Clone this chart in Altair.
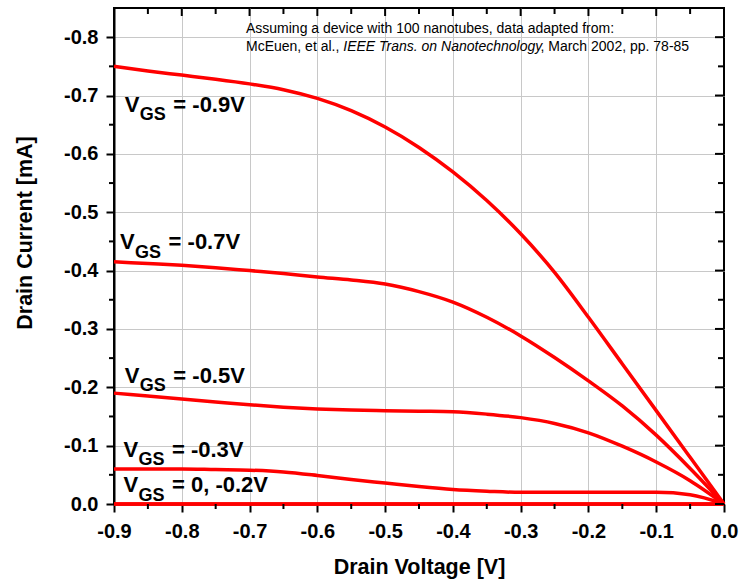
import altair as alt
import pandas as pd

# ---------------- data ----------------
v_drain = [-0.9, -0.85, -0.8, -0.75, -0.7, -0.65, -0.6, -0.55, -0.5, -0.45,
           -0.4, -0.35, -0.3, -0.25, -0.2, -0.15, -0.1, -0.05, 0.0]

i_vgs_m09 = [-0.750, -0.742, -0.735, -0.728, -0.720, -0.710, -0.695, -0.674, -0.646, -0.611,
             -0.569, -0.520, -0.463, -0.397, -0.320, -0.240, -0.160, -0.080, 0.0]
i_vgs_m07 = [-0.415, -0.412, -0.409, -0.405, -0.400, -0.395, -0.389, -0.384, -0.377, -0.364,
             -0.346, -0.320, -0.288, -0.251, -0.211, -0.168, -0.118, -0.061, 0.0]
i_vgs_m05 = [-0.190, -0.185, -0.180, -0.175, -0.170, -0.166, -0.163, -0.161, -0.160, -0.159,
             -0.158, -0.154, -0.148, -0.138, -0.122, -0.099, -0.072, -0.040, 0.0]
i_vgs_m03 = [-0.060, -0.060, -0.060, -0.059, -0.058, -0.055, -0.049, -0.042, -0.036, -0.030,
             -0.025, -0.022, -0.020, -0.020, -0.020, -0.020, -0.020, -0.016, 0.0]
i_vgs_m02 = [0.0, 0.0, 0.0, 0.0, 0.0, 0.0, 0.0, 0.0, 0.0, 0.0,
             0.0, 0.0, 0.0, 0.0, 0.0, 0.0, 0.0, 0.0, 0.0]
i_vgs_0 = [0.0, 0.0, 0.0, 0.0, 0.0, 0.0, 0.0, 0.0, 0.0, 0.0,
           0.0, 0.0, 0.0, 0.0, 0.0, 0.0, 0.0, 0.0, 0.0]

series_names = ["-0.9", "-0.7", "-0.5", "-0.3", "-0.2", "0"]
series_values = [i_vgs_m09, i_vgs_m07, i_vgs_m05, i_vgs_m03, i_vgs_m02, i_vgs_0]

x_major = [-0.9, -0.8, -0.7, -0.6, -0.5, -0.4, -0.3, -0.2, -0.1, 0.0]
x_minor = [-0.85, -0.75, -0.65, -0.55, -0.45, -0.35, -0.25, -0.15, -0.05]
y_major = [0.0, -0.1, -0.2, -0.3, -0.4, -0.5, -0.6, -0.7, -0.8]
y_minor = [-0.05, -0.15, -0.25, -0.35, -0.45, -0.55, -0.65, -0.75]

label_main = ["= -0.9V", "= -0.7V", "= -0.5V", "= -0.3V", "= 0, -0.2V"]
label_x = [-0.884, -0.891, -0.884, -0.886, -0.886]
label_y = [-0.672, -0.4365, -0.208, -0.081, -0.020]

note_line1 = "Assuming a device with 100 nanotubes, data adapted from:"
note_line2_a = "McEuen, et al.,"
note_line2_b = "IEEE Trans. on Nanotechnology"
note_line2_c = ", March 2002, pp. 78-85"
note_x = -0.7053
note_y1 = -0.807
note_y2 = -0.777

# ---------------- tables ----------------
rows = []
for name, vals in zip(series_names, series_values):
    for v, i in zip(v_drain, vals):
        rows.append({"series": name, "v": v, "i": i})
curves = pd.DataFrame(rows)

labels = pd.DataFrame({"v": label_x, "i": label_y, "main": label_main})
note = pd.DataFrame({"v": [note_x], "i1": [note_y1], "i2": [note_y2]})
xmaj = pd.DataFrame({"v": x_major})
xmin = pd.DataFrame({"v": x_minor})
ymaj = pd.DataFrame({"i": y_major})
ymin = pd.DataFrame({"i": y_minor})

FONT = "Liberation Sans, Arial, Helvetica, sans-serif"
W, H = 610, 496

xscale = alt.Scale(domain=[-0.9, 0.0], nice=False, zero=False)
yscale = alt.Scale(domain=[-0.85, 0.0], nice=False, zero=False, reverse=True)

minus_fix = "replace(format(datum.value, '.1f'), '\u2212', '-')"

x_axis = alt.Axis(
    values=x_major, labelExpr=minus_fix, title="Drain Voltage [V]",
    grid=True, gridColor="#c8c8c8", gridWidth=1,
    gridOpacity={"condition": {"test": "datum.value === -0.9 || datum.value === 0", "value": 0}, "value": 1},
    tickSize=8, tickWidth=2, tickColor="black",
    domain=True, domainColor="black", domainWidth=2,
    labelFont=FONT, labelFontSize=20, labelFontWeight="bold", labelColor="black",
    labelPadding=9, labelFlush=False, labelOverlap=False,
    titleFont=FONT, titleFontSize=21.5, titleFontWeight="bold", titleColor="black",
    titleX=W / 2, titleY=69, titleBaseline="alphabetic", titleAlign="center",
)
y_axis = alt.Axis(
    values=y_major, labelExpr=minus_fix, title="Drain Current [mA]",
    grid=True, gridColor="#c8c8c8", gridWidth=1,
    gridOpacity={"condition": {"test": "datum.value === 0", "value": 0}, "value": 1},
    tickSize=8, tickWidth=2, tickColor="black",
    domain=True, domainColor="black", domainWidth=2,
    labelFont=FONT, labelFontSize=20, labelFontWeight="bold", labelColor="black",
    labelPadding=8, labelFlush=False, labelOverlap=False,
    titleFont=FONT, titleFontSize=21.5, titleFontWeight="bold", titleColor="black",
    titleX=-83, titleY=224.5, titleAngle=270, titleBaseline="alphabetic", titleAlign="center",
)


def xq():
    return alt.X("v:Q", scale=xscale, axis=x_axis)


def yq(field="i"):
    return alt.Y(f"{field}:Q", scale=yscale, axis=y_axis)


lines = alt.Chart(curves).mark_line(
    interpolate="monotone", color="#ff0000", strokeWidth=3.5
).encode(x=xq(), y=yq(), detail="series:N")

rule_style = dict(color="black", strokeWidth=2)

# minor ticks outward (left / bottom)
left_minor = alt.Chart(ymin).mark_rule(**rule_style).encode(
    y=yq(), x=alt.value(-5), x2=alt.value(0))
bottom_minor = alt.Chart(xmin).mark_rule(**rule_style).encode(
    x=xq(), y=alt.value(H), y2=alt.value(H + 5))
# inward ticks (top / right)
top_major = alt.Chart(xmaj).mark_rule(**rule_style).encode(
    x=xq(), y=alt.value(0), y2=alt.value(8))
top_minor = alt.Chart(xmin).mark_rule(**rule_style).encode(
    x=xq(), y=alt.value(0), y2=alt.value(6))
right_major = alt.Chart(ymaj).mark_rule(**rule_style).encode(
    y=yq(), x=alt.value(W - 9), x2=alt.value(W))
right_minor = alt.Chart(ymin).mark_rule(**rule_style).encode(
    y=yq(), x=alt.value(W - 6), x2=alt.value(W))

# curve labels V_GS = ...
lab_v = alt.Chart(labels).mark_text(
    align="left", baseline="alphabetic", font=FONT, fontSize=22, fontWeight="bold", color="black"
).encode(x=xq(), y=yq(), text=alt.value("V"))
lab_gs = alt.Chart(labels).mark_text(
    align="left", baseline="alphabetic", font=FONT, fontSize=18, fontWeight="bold", color="black",
    dx=15, dy=8.5
).encode(x=xq(), y=yq(), text=alt.value("GS"))
lab_main = alt.Chart(labels).mark_text(
    align="left", baseline="alphabetic", font=FONT, fontSize=22, fontWeight="bold", color="black",
    dx=48.5
).encode(x=xq(), y=yq(), text="main:N")

# source note
note_style = dict(align="left", baseline="alphabetic", font=FONT, fontSize=14, color="black")
n1 = alt.Chart(note).mark_text(**note_style).encode(x=xq(), y=yq("i1"), text=alt.value(note_line1))
n2a = alt.Chart(note).mark_text(**note_style).encode(x=xq(), y=yq("i2"), text=alt.value(note_line2_a))
n2b = alt.Chart(note).mark_text(fontStyle="italic", dx=97.3, **note_style).encode(
    x=xq(), y=yq("i2"), text=alt.value(note_line2_b))
n2c = alt.Chart(note).mark_text(dx=294.5, **note_style).encode(
    x=xq(), y=yq("i2"), text=alt.value(note_line2_c))

chart = alt.layer(
    lines, left_minor, bottom_minor, top_major, top_minor, right_major, right_minor,
    lab_v, lab_gs, lab_main, n1, n2a, n2b, n2c,
).properties(
    width=W, height=H,
    autosize=alt.AutoSizeParams(type="none"),
    padding={"left": 114, "top": 8, "right": 15, "bottom": 75},
    background="white",
).configure_view(stroke="black", strokeWidth=2)

chart.save("out.html", embed_options={"renderer": "svg", "actions": False})
